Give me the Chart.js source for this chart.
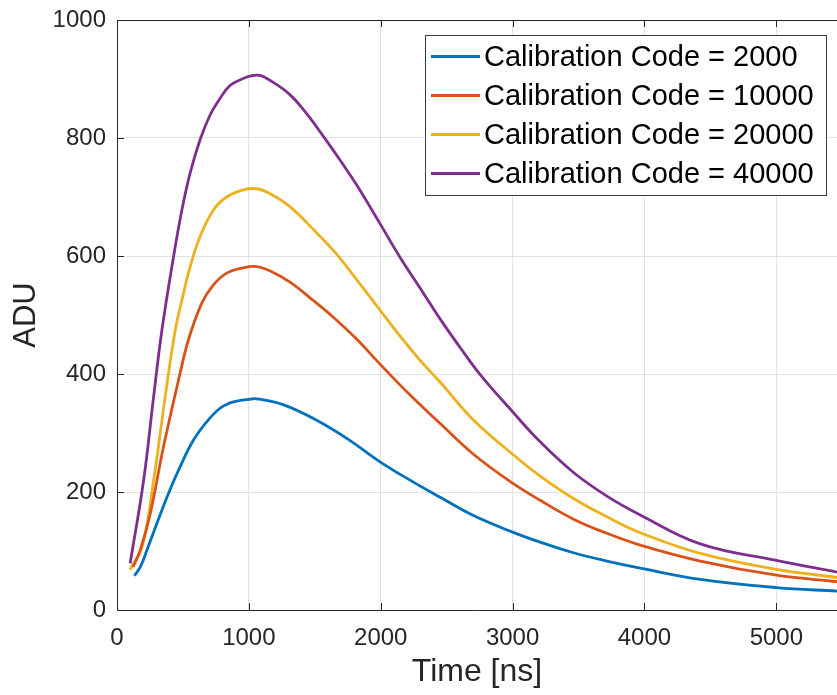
<!DOCTYPE html>
<html>
<head>
<meta charset="utf-8">
<script src="https://cdn.jsdelivr.net/npm/chart.js@4"></script>
<style>
  html, body { margin: 0; padding: 0; background: #fff; }
  #wrap { width: 837px; height: 695px; }
</style>
</head>
<body>
<div id="wrap"><canvas id="pulseChart"></canvas></div>
<script>
// time [ns] and ADU, one pair of arrays per calibration code
const tCode2000 = [132, 177, 228, 303, 391, 479, 580, 680, 781, 857, 907, 1000, 1060, 1259, 1511, 1762, 1989, 2215, 2451, 2703, 3000, 3209, 3462, 3715, 3968, 4423, 5000, 5463];
const vCode2000 = [58, 73, 102, 147, 198, 243, 288, 319, 342, 351, 354, 357, 358, 348, 322, 288, 252, 221, 191, 160, 132, 115, 97, 83, 71, 52, 38, 32];

const tCode10000 = [122, 177, 253, 353, 467, 542, 643, 731, 832, 957, 1058, 1158, 1309, 1486, 1636, 1813, 1989, 2215, 2451, 2703, 3000, 3209, 3462, 3715, 3968, 4423, 5000, 5463];
const vCode10000 = [73, 102, 164, 277, 390, 458, 520, 551, 571, 580, 582, 575, 556, 525, 497, 460, 418, 366, 316, 264, 215, 186, 154, 130, 110, 83, 59, 48];

const tCode20000 = [97, 190, 278, 366, 442, 492, 555, 630, 731, 832, 957, 1058, 1158, 1309, 1511, 1662, 1838, 1989, 2140, 2291, 2451, 2703, 3000, 3209, 3462, 3715, 3968, 4423, 5000, 5463];
const vCode20000 = [68, 107, 220, 362, 475, 525, 582, 633, 678, 700, 712, 714, 706, 684, 640, 604, 554, 510, 466, 425, 386, 322, 264, 227, 189, 158, 131, 96, 69, 55];

const tCode40000 = [100, 202, 278, 341, 429, 492, 555, 630, 706, 781, 857, 957, 1008, 1083, 1158, 1309, 1435, 1561, 1687, 1813, 1989, 2140, 2315, 2451, 2602, 2754, 3000, 3209, 3462, 3715, 3968, 4423, 5000, 5463];
const vCode40000 = [79, 220, 362, 475, 599, 678, 741, 797, 839, 867, 889, 901, 905, 906, 898, 874, 842, 804, 764, 722, 657, 600, 540, 493, 445, 399, 336, 285, 233, 193, 161, 112, 84, 64];

const seriesLabels = ["Calibration Code = 2000", "Calibration Code = 10000", "Calibration Code = 20000", "Calibration Code = 40000"];
const seriesColors = ["#0072BD", "#D95319", "#EDB120", "#7E2F8E"];
const xTicks = [0, 1000, 2000, 3000, 4000, 5000];
const yTicks = [0, 200, 400, 600, 800, 1000];

const FONT = "'Liberation Sans', Arial, Helvetica, sans-serif";
const AXIS_COLOR = "#262626";

function toPoints(ts, vs) {
    return ts.map((t, i) => ({ x: t, y: vs[i] }));
}

const seriesData = [
    toPoints(tCode2000, vCode2000),
    toPoints(tCode10000, vCode10000),
    toPoints(tCode20000, vCode20000),
    toPoints(tCode40000, vCode40000),
];

// MATLAB style: box on, ticks pointing inwards
const boxAndTicks = {
    id: "boxAndTicks",
    afterDatasetsDraw(chart) {
        const { ctx, chartArea } = chart;
        const xs = chart.scales.x;
        const ys = chart.scales.y;
        const len = 7;
        ctx.save();
        ctx.strokeStyle = AXIS_COLOR;
        ctx.lineWidth = 1;
        ctx.beginPath();
        ctx.moveTo(chartArea.left, chartArea.top + 0.5);
        ctx.lineTo(chartArea.right, chartArea.top + 0.5);
        xTicks.forEach((v) => {
            const px = Math.round(xs.getPixelForValue(v)) + 0.5;
            ctx.moveTo(px, chartArea.bottom);
            ctx.lineTo(px, chartArea.bottom - len);
            ctx.moveTo(px, chartArea.top);
            ctx.lineTo(px, chartArea.top + len);
        });
        yTicks.forEach((v) => {
            const py = Math.round(ys.getPixelForValue(v)) + 0.5;
            ctx.moveTo(chartArea.left, py);
            ctx.lineTo(chartArea.left + len, py);
        });
        ctx.stroke();
        ctx.restore();
    },
};

const boxedLegend = {
    id: "boxedLegend",
    afterDraw(chart) {
        const { ctx } = chart;
        const x0 = 425, y0 = 35, w = 401, h = 160;
        const rowH = 39;
        ctx.save();
        ctx.fillStyle = "#fff";
        ctx.fillRect(x0, y0, w, h);
        ctx.strokeStyle = "#3a3a3a";
        ctx.lineWidth = 1;
        ctx.strokeRect(x0 + 0.5, y0 + 0.5, w, h);
        ctx.font = "29px " + FONT;
        ctx.textBaseline = "middle";
        ctx.textAlign = "left";
        chart.data.datasets.forEach((ds, i) => {
            const cy = y0 + 21.5 + i * rowH;
            ctx.strokeStyle = ds.borderColor;
            ctx.lineWidth = 2.8;
            ctx.beginPath();
            ctx.moveTo(x0 + 6, cy);
            ctx.lineTo(x0 + 55, cy);
            ctx.stroke();
            ctx.fillStyle = "#000";
            ctx.fillText(ds.label, x0 + 59, cy + 1);
        });
        ctx.restore();
    },
};

function noEdgePadding(scale) {
    scale.paddingTop = 0;
    scale.paddingBottom = 0;
    scale.paddingLeft = 0;
    scale.paddingRight = 0;
}

const ctx = document.getElementById("pulseChart").getContext("2d");

new Chart(ctx, {
    type: "line",
    data: {
        datasets: seriesData.map((pts, i) => ({
            label: seriesLabels[i],
            data: pts,
            borderColor: seriesColors[i],
            backgroundColor: seriesColors[i],
            borderWidth: 2.8,
            pointRadius: 0,
            fill: false,
            tension: 0.4,
        })),
    },
    options: {
        responsive: true,
        maintainAspectRatio: false,
        animation: false,
        layout: {
            padding: { top: 20, right: 0, left: 0, bottom: 0 },
        },
        plugins: {
            legend: { display: false },
            tooltip: { enabled: false },
        },
        scales: {
            x: {
                type: "linear",
                min: 0,
                max: 5460,
                afterBuildTicks: (scale) => {
                    scale.ticks = xTicks.map((v) => ({ value: v }));
                },
                afterFit: (scale) => {
                    scale.height = 85;
                    noEdgePadding(scale);
                },
                ticks: {
                    padding: 14,
                    maxRotation: 0,
                    color: AXIS_COLOR,
                    font: { family: FONT, size: 24 },
                    callback: (v) => String(v),
                },
                grid: {
                    color: "#e2e2e2",
                    drawTicks: false,
                },
                border: { color: AXIS_COLOR, width: 1 },
                title: {
                    display: true,
                    text: "Time [ns]",
                    color: AXIS_COLOR,
                    font: { family: FONT, size: 32 },
                    padding: { top: 0, bottom: 4 },
                },
            },
            y: {
                type: "linear",
                min: 0,
                max: 1000,
                afterBuildTicks: (scale) => {
                    scale.ticks = yTicks.map((v) => ({ value: v }));
                },
                afterFit: (scale) => {
                    scale.width = 117;
                    noEdgePadding(scale);
                },
                ticks: {
                    padding: 11,
                    color: AXIS_COLOR,
                    font: { family: FONT, size: 24 },
                    callback: (v) => String(v),
                },
                grid: {
                    color: "#e2e2e2",
                    drawTicks: false,
                },
                border: { color: AXIS_COLOR, width: 1 },
                title: {
                    display: true,
                    text: "ADU",
                    color: AXIS_COLOR,
                    font: { family: FONT, size: 31 },
                    padding: { top: 8, bottom: 0 },
                },
            },
        },
    },
    plugins: [boxAndTicks, boxedLegend],
});
</script>
</body>
</html>
